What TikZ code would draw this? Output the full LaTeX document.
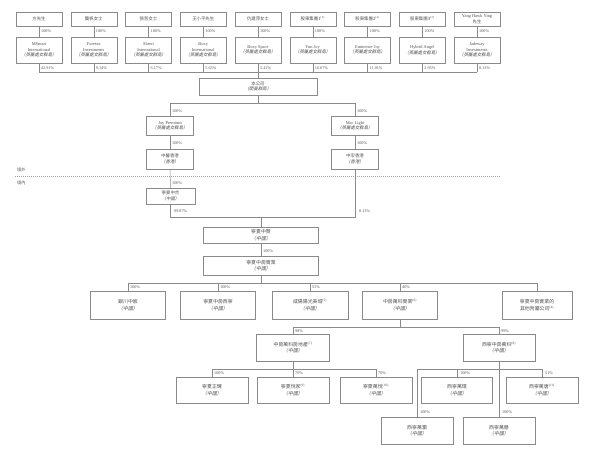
\documentclass[tikz,border=0pt]{standalone}
\usepackage{fontspec}
\setmainfont{Liberation Serif}
\newfontfamily\cjk{Noto Sans CJK TC}
\newfontfamily\cjki{Noto Sans CJK TC}[FakeSlant=0.2]
\definecolor{lnc}{HTML}{8A8A8A}
\definecolor{dsc}{HTML}{A0A0A0}
\definecolor{txc}{HTML}{505050}
\newcommand{\bvi}{{\cjki （英屬處女群島）}}
\newcommand{\zg}{{\cjki （中國）}}
\newcommand{\fn}[1]{\textsuperscript{(#1)}}
\begin{document}
\begin{tikzpicture}[x=1pt,y=-1pt,
  bx/.style={draw=lnc, line width=0.5pt, text=txc, align=center, inner sep=0pt, font=\fontsize{4.4}{5.4}\selectfont},
  bxl/.style={bx, font=\fontsize{4.9}{6.5}\selectfont},
  pc/.style={text=txc, font=\fontsize{4.2}{5}\selectfont, anchor=west, inner sep=0pt},
  conn/.style={draw=lnc, line width=0.5pt}]
\useasboundingbox (0,0) rectangle (600,461);
\coordinate (busY) at (0,72);
\coordinate (h1) at (0,103);
\coordinate (h2) at (0,217);
\coordinate (h3) at (0,283);
\coordinate (h4) at (0,327);
\coordinate (h5) at (0,369);

% top row persons
\node[bx, minimum width=46, minimum height=14] (p1) at (39,19) {{\cjk 方先生}};
\node[bx, minimum width=46, minimum height=14] (p2) at (93.75,19) {{\cjk 龔帆女士}};
\node[bx, minimum width=46, minimum height=14] (p3) at (148.5,19) {{\cjk 張哲女士}};
\node[bx, minimum width=46, minimum height=14] (p4) at (203.25,19) {{\cjk 王小平先生}};
\node[bx, minimum width=46, minimum height=14] (p5) at (258,19) {{\cjk 仇建萍女士}};
\node[bx, minimum width=46, minimum height=14] (p6) at (312.75,19) {{\cjk 股東集團1}\fn{1}};
\node[bx, minimum width=46, minimum height=14] (p7) at (367.5,19) {{\cjk 股東集團2}\fn{2}};
\node[bx, minimum width=46, minimum height=14] (p8) at (422.25,19) {{\cjk 股東集團3}\fn{3}};
\node[bx, minimum width=46, minimum height=14] (p9) at (477,19) {Yang Hawk Ying\\{\cjk 先生}};

% companies
\node[bx, minimum width=46, minimum height=26] (c1) at (39,50) {MSmart\\International\\\bvi};
\node[bx, minimum width=46, minimum height=26] (c2) at (93.75,50) {Foresea\\Investments\\\bvi};
\node[bx, minimum width=46, minimum height=26] (c3) at (148.5,50) {Sherri\\International\\\bvi};
\node[bx, minimum width=46, minimum height=26] (c4) at (203.25,50) {Boxy\\International\\\bvi};
\node[bx, minimum width=46, minimum height=26] (c5) at (258,50) {Boxy Space\\\bvi};
\node[bx, minimum width=46, minimum height=26] (c6) at (312.75,50) {Fun Joy\\\bvi};
\node[bx, minimum width=46, minimum height=26] (c7) at (367.5,50) {Eminence Joy\\\bvi};
\node[bx, minimum width=46, minimum height=26] (c8) at (422.25,50) {Hybrid Angel\\\bvi};
\node[bx, minimum width=46, minimum height=26] (c9) at (477,50) {Jadeway\\Investments\\\bvi};

\foreach \i in {1,...,9} {
  \draw[conn] (p\i.south) -- (c\i.north);
  \node[pc] at ([xshift=2pt]p\i.south |- 0,31.5) {100\%};
  \draw[conn] (c\i.south) -- (c\i.south |- busY);
}
\draw[conn] (c1.south |- busY) -- (c9.south |- busY);
\node[pc] at ([xshift=2pt]c1.south |- 0,68) {42.91\%};
\node[pc] at ([xshift=2pt]c2.south |- 0,68) {9.14\%};
\node[pc] at ([xshift=2pt]c3.south |- 0,68) {6.17\%};
\node[pc] at ([xshift=2pt]c4.south |- 0,68) {5.63\%};
\node[pc] at ([xshift=2pt]c5.south |- 0,68) {5.41\%};
\node[pc] at ([xshift=2pt]c6.south |- 0,68) {16.67\%};
\node[pc] at ([xshift=2pt]c7.south |- 0,68) {11.01\%};
\node[pc] at ([xshift=2pt]c8.south |- 0,68) {2.93\%};
\node[pc] at ([xshift=2pt]c9.south |- 0,68) {0.13\%};

% company
\node[bx, minimum width=118, minimum height=17] (co) at (258,86.5) {{\cjk 本公司}\\{\cjki （開曼群島）}};
\draw[conn] (c5.south) -- (co.north);

\node[bx, minimum width=47, minimum height=19] (jp) at (170,125.5) {Joy Premium\\\bvi};
\node[bx, minimum width=47, minimum height=19] (ml) at (355,125.5) {Mac Light\\\bvi};
\draw[conn] (co.south) -- (co.south |- h1);
\draw[conn] (jp.north) |- (ml.north |- h1) -- (ml.north);
\node[pc] at (172,111) {100\%};
\node[pc] at (357,111) {100\%};

\node[bx, minimum width=47, minimum height=20] (zx) at (170,159) {{\cjk 中馨香港}\\{\cjki （香港）}};
\node[bx, minimum width=47, minimum height=20] (zh) at (355,159) {{\cjk 中宏香港}\\{\cjki （香港）}};
\draw[conn] (jp.south) -- (zx.north);
\draw[conn] (ml.south) -- (zh.north);
\node[pc] at (172,143) {100\%};
\node[pc] at (357,143) {100\%};

% border line
\draw[dsc, line width=0.4pt, dash pattern=on 1pt off 1pt] (15,176) -- (500,176);
\node[pc] at (17,170) {{\cjk 境外}};
\node[pc] at (17,182.5) {{\cjk 境內}};

\node[bx, minimum width=49, minimum height=16] (nh) at (170.5,196) {{\cjk 寧夏中合}\\\zg};
\draw[conn] (zx.south) -- (nh.north);
\node[pc] at (172,183) {100\%};
\draw[conn] (nh.south) |- (zh.south |- h2) -- (zh.south);
\node[pc] at (174,211) {99.87\%};
\node[pc] at (359,211) {0.13\%};

\node[bxl, minimum width=115, minimum height=16] (nx) at (261,235) {{\cjk 寧夏中賢}\\\zg};
\draw[conn] (nx.north) -- (nx.north |- h2);
\node[bxl, minimum width=115, minimum height=19] (nf) at (261,265.5) {{\cjk 寧夏中房實業}\\\zg};
\draw[conn] (nx.south) -- (nf.north);
\node[pc] at (263,251) {100\%};

% level children
\node[bxl, minimum width=75, minimum height=28] (k1) at (128,305) {{\cjk 銀川中宸}\\\zg};
\node[bxl, minimum width=75, minimum height=28] (k2) at (218,305) {{\cjk 寧夏中房西寧}\\\zg};
\node[bxl, minimum width=76, minimum height=28] (k3) at (310,305) {{\cjk 咸陽陽光美城}\fn{5}\\\zg};
\node[bxl, minimum width=75, minimum height=28] (k4) at (400,305) {{\cjk 中房萬科實業}\fn{6}\\\zg};
\node[bxl, minimum width=70, minimum height=28] (k5) at (537,305) {{\cjk 寧夏中房實業的}\\{\cjk 其他附屬公司}\fn{4}};
\draw[conn] (nf.south) -- (nf.south |- h3);
\draw[conn] (k1.north) |- (k5.north |- h3) -- (k5.north);
\draw[conn] (k2.north) -- (k2.north |- h3);
\draw[conn] (k3.north) -- (k3.north |- h3);
\draw[conn] (k4.north) -- (k4.north |- h3);
\node[pc] at (130,287) {100\%};
\node[pc] at (220,287) {100\%};
\node[pc] at (312,287) {55\%};
\node[pc] at (402,287) {40\%};

% level g
\node[bxl, minimum width=73, minimum height=27] (g1) at (293,347.5) {{\cjk 中房萬科房地產}\fn{7}\\\zg};
\node[bxl, minimum width=72, minimum height=27] (g2) at (499,347.5) {{\cjk 西寧中房萬科}\fn{8}\\\zg};
\draw[conn] (k4.south) -- (k4.south |- h4);
\draw[conn] (g1.north) |- (g2.north |- h4) -- (g2.north);
\node[pc] at (295,331) {98\%};
\node[pc] at (501,331) {99\%};

% level m (left)
\node[bxl, minimum width=72, minimum height=26] (m1) at (212,390) {{\cjk 寧夏正輝}\\\zg};
\node[bxl, minimum width=72, minimum height=26] (m2) at (293,390) {{\cjk 寧夏悅家}\fn{9}\\\zg};
\node[bxl, minimum width=72, minimum height=26] (m3) at (376,390) {{\cjk 寧夏萬悅}\fn{10}\\\zg};
\draw[conn] (g1.south) -- (m2.north);
\draw[conn] (m1.north) |- (m3.north |- h5) -- (m3.north);
\node[pc] at (214,373) {100\%};
\node[pc] at (295,373) {70\%};
\node[pc] at (378,373) {70\%};

% level n (right)
\node[bxl, minimum width=71, minimum height=26] (n1) at (457,390) {{\cjk 西寧萬環}\\\zg};
\node[bxl, minimum width=72, minimum height=26] (n2) at (542,390) {{\cjk 西寧萬唐}\fn{11}\\\zg};
\node[bxl, minimum width=72, minimum height=27] (n3) at (417,430.5) {{\cjk 西寧萬瀾}\\\zg};
\node[bxl, minimum width=72, minimum height=27] (n4) at (499,430.5) {{\cjk 西寧萬譽}\\\zg};
\draw[conn] (g2.south) -- (n4.north);
\draw[conn] (n3.north) |- (n2.north |- h5) -- (n2.north);
\draw[conn] (n1.north) -- (n1.north |- h5);
\node[pc] at (460,373) {100\%};
\node[pc] at (545,373) {51\%};
\node[pc] at (420,412) {100\%};
\node[pc] at (502,412) {100\%};
\end{tikzpicture}
\end{document}
